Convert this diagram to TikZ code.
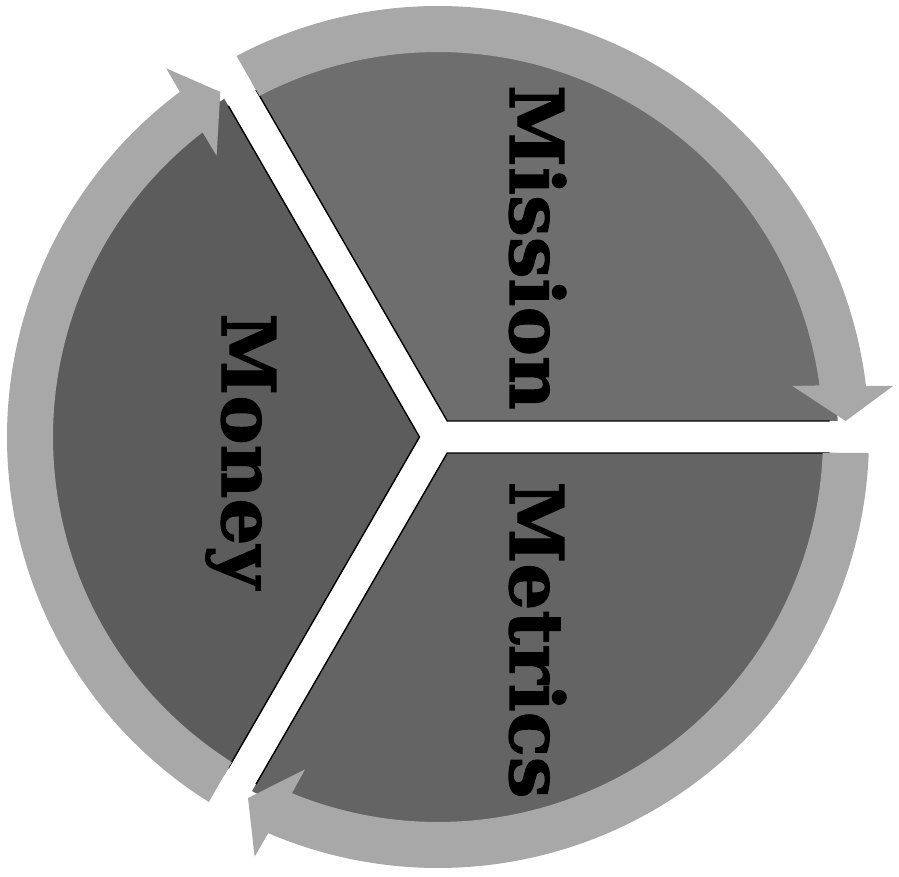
\documentclass[tikz,border=0pt]{standalone}
\usepackage{fontspec}
\setmainfont{DejaVu Serif}
\newfontfamily\lblfont[FakeBold=1.6]{DejaVu Serif Bold}
\definecolor{secA}{RGB}{110,110,110}
\definecolor{secB}{RGB}{92,92,92}
\definecolor{secC}{RGB}{100,100,100}
\definecolor{bandcol}{RGB}{168,168,168}
\tikzset{
  band/.style={fill=bandcol},
  edgeline/.style={draw=black, line width=1.4pt, line join=miter},
  lbl/.style={rotate=-90, inner sep=0pt, font=\fontsize{74}{74}\lblfont, text=black}
}
\begin{document}
\begin{tikzpicture}[x=1pt,y=1pt]
\useasboundingbox (-438,-440) rectangle (461,437);
% sectors
\foreach \rot/\col in {0/secA,120/secB,240/secC}{
  \begin{scope}[rotate=\rot]
    \fill[\col] (60:18.5) -- ({asin(16/400)}:400) arc[start angle={asin(16/400)}, end angle={120-asin(16/400)}, radius=400] -- cycle;
    \draw[edgeline] ({asin(16/392)}:392) -- (60:18.5) -- ({120-asin(16/392)}:392);
  \end{scope}
}
% arrow bands
\foreach \rot in {0,120,240}{
  \begin{scope}[rotate=\rot]
    \fill[band] ({120-asin(16/431)}:431) arc[start angle={120-asin(16/431)}, end angle=6.8, radius=431]
      -- (6.4:458) -- ({asin(16/408)}:408) -- (8.2:358) -- (7.7:385)
      arc[start angle=7.7, end angle={120-asin(16/385)}, radius=385] -- cycle;
  \end{scope}
}
% labels
\node[lbl, anchor=base] (mission) at (72,189.5) {Mission};
\node[lbl, anchor=base] (money) at (-216,-14) {Money};
\node[lbl, anchor=base] (metrics) at (72,-203) {Metrics};
\end{tikzpicture}
\end{document}
